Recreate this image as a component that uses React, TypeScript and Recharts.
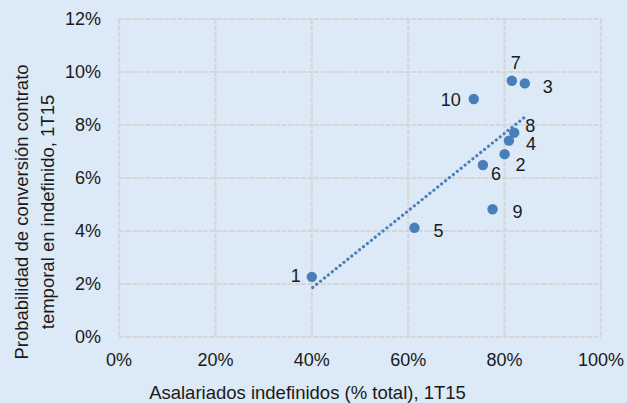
import React from 'react';
import { ScatterChart, Scatter, XAxis, YAxis, CartesianGrid } from 'recharts';

const regionLabels = ['1', '2', '3', '4', '5', '6', '7', '8', '9', '10'];
const indefinidosPct = [40.0, 80.0, 84.2, 80.9, 61.3, 75.5, 81.5, 82.0, 77.5, 73.6];
const conversionPct = [2.27, 6.9, 9.57, 7.41, 4.12, 6.49, 9.67, 7.71, 4.82, 8.98];
const trendX = [40.2, 84.0];
const trendY = [1.87, 8.27];
const xTicks = [0, 20, 40, 60, 80, 100];
const yTicks = [0, 2, 4, 6, 8, 10, 12];

const xTitle = 'Asalariados indefinidos (% total), 1T15';
const yTitleLines = ['Probabilidad de conversión contrato', 'temporal en indefinido, 1T15'];

// label placement (style), keyed by region label
const labelOffsets: Record<string, [number, number]> = {
  '1': [-16, -1],
  '2': [16, 10],
  '3': [23, 3],
  '4': [22, 3],
  '5': [24, 3],
  '6': [13, 9],
  '7': [4, -18],
  '8': [16, -7],
  '9': [25, 2],
  '10': [-23, 1],
};

const points = regionLabels.map((name, i) => ({ name, x: indefinidosPct[i], y: conversionPct[i] }));
const trend = trendX.map((x, i) => ({ x, y: trendY[i] }));

const BLUE = '#4a7ebb';
const FONT = '"Liberation Sans", Arial, Helvetica, sans-serif';
const TEXT = '#1a1a1a';

const PointShape = (props: any) => {
  const { cx, cy, payload } = props;
  const off = labelOffsets[payload.name] || [0, 0];
  return (
    <g>
      <circle cx={cx} cy={cy} r={5.2} fill={BLUE} />
      <text
        x={cx + off[0]}
        y={cy + off[1]}
        dy="0.355em"
        textAnchor="middle"
        fontSize={18}
        fontFamily={FONT}
        fill={TEXT}
      >
        {payload.name}
      </text>
    </g>
  );
};

export default function App() {
  return (
    <div style={{ position: 'fixed', left: 0, top: 0, width: 627, height: 403, background: '#dce9f6' }}>
      <ScatterChart
        width={627}
        height={403}
        margin={{ top: 19, right: 26, left: 0, bottom: 0 }}
        style={{ fontFamily: FONT }}
      >
        <CartesianGrid stroke="#d6d6d6" strokeWidth={2.2} strokeDasharray="5 1.5" />
        <XAxis
          type="number"
          dataKey="x"
          domain={[0, 100]}
          ticks={xTicks}
          tickFormatter={(v: number) => `${v}%`}
          axisLine={false}
          tickLine={false}
          tickSize={0}
          tickMargin={16}
          height={66}
          tick={{ fontSize: 18, fill: TEXT, fontFamily: FONT }}
          interval={0}
          label={{
            content: () => (
              <text x={307.5} y={399} textAnchor="middle" fontSize={18.5} fontFamily={FONT} fill={TEXT}>
                {xTitle}
              </text>
            ),
          }}
        />
        <YAxis
          type="number"
          dataKey="y"
          domain={[0, 12]}
          ticks={yTicks}
          tickFormatter={(v: number) => `${v}%`}
          axisLine={false}
          tickLine={false}
          tickSize={0}
          tickMargin={18}
          width={119}
          tick={{ fontSize: 18, fill: TEXT, fontFamily: FONT }}
          interval={0}
          label={{
            content: () => (
              <text transform="rotate(-90)" textAnchor="middle" fontSize={18.5} fontFamily={FONT} fill={TEXT}>
                <tspan x={-212} y={27.5}>{yTitleLines[0]}</tspan>
                <tspan x={-212} y={53.5}>{yTitleLines[1]}</tspan>
              </text>
            ),
          }}
        />
        <Scatter
          data={trend}
          isAnimationActive={false}
          line={{ stroke: BLUE, strokeWidth: 3.2, strokeDasharray: '0.01 5', strokeLinecap: 'round' }}
          lineType="joint"
          shape={() => <g />}
        />
        <Scatter data={points} isAnimationActive={false} shape={PointShape} />
      </ScatterChart>
    </div>
  );
}
